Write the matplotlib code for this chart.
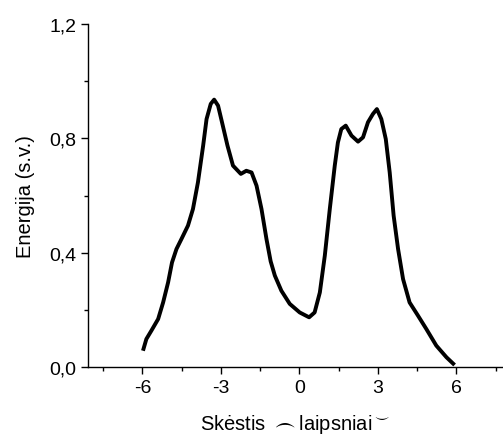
import numpy as np
import matplotlib
matplotlib.use('Agg')
import matplotlib.pyplot as plt
from matplotlib.ticker import FuncFormatter, MultipleLocator

plt.rcParams['font.family'] = ['Liberation Sans', 'DejaVu Sans']

# curve
angle = [-5.98, -5.85, -5.66, -5.40, -5.21, -5.02, -4.87, -4.70, -4.51, -4.26,
         -4.07, -3.88, -3.68, -3.55, -3.39, -3.26, -3.11, -2.96, -2.75, -2.54,
         -2.24, -2.03, -1.83, -1.64, -1.45, -1.26, -1.10, -0.94, -0.69, -0.37,
         0.01, 0.37, 0.58, 0.78, 0.97, 1.16, 1.35, 1.47, 1.60, 1.77,
         1.99, 2.24, 2.43, 2.62, 2.81, 2.96, 3.13, 3.30, 3.45, 3.60,
         3.77, 3.96, 4.21, 4.53, 4.85, 5.23, 5.62, 5.93]
energy = [0.057, 0.098, 0.127, 0.168, 0.226, 0.296, 0.366, 0.413, 0.448, 0.495,
          0.553, 0.646, 0.775, 0.868, 0.921, 0.936, 0.915, 0.857, 0.775, 0.705,
          0.676, 0.687, 0.681, 0.635, 0.553, 0.448, 0.370, 0.320, 0.267, 0.221,
          0.191, 0.174, 0.191, 0.261, 0.390, 0.553, 0.705, 0.786, 0.833, 0.845,
          0.810, 0.789, 0.804, 0.857, 0.886, 0.903, 0.868, 0.798, 0.681, 0.530,
          0.413, 0.308, 0.226, 0.180, 0.133, 0.075, 0.034, 0.007]
xticks = [-6, -3, 0, 3, 6]
yticks = [0.0, 0.4, 0.8, 1.2]

fig = plt.figure(figsize=(5.03, 4.35), dpi=100)
ax = fig.add_axes([0.175, 0.154, 0.825, 0.788])
ax.plot(angle, energy, color='black', lw=2.8, solid_capstyle='butt',
        solid_joinstyle='round')

ax.set_xlim(-8.08, 7.78)
ax.set_ylim(0, 1.2)
ax.set_xticks(xticks)
ax.set_yticks(yticks)
ax.xaxis.set_minor_locator(MultipleLocator(1.5))
ax.yaxis.set_minor_locator(MultipleLocator(0.2))
ax.xaxis.set_major_formatter(FuncFormatter(lambda v, p: f"{v:g}"))
ax.yaxis.set_major_formatter(FuncFormatter(lambda v, p: f"{v:.1f}".replace('.', ',')))
ax.tick_params(which='major', length=5, width=1, labelsize=14, direction='out')
ax.tick_params(which='minor', length=3, width=1, direction='out')
for s in ['top', 'right']:
    ax.spines[s].set_visible(False)
for s in ['left', 'bottom']:
    ax.spines[s].set_linewidth(1)

ax.set_ylabel('Energija (s.v.)', fontsize=14.5, labelpad=10)
xl = ax.set_xlabel(r'Skėstis $\frown$laipsniai$^{\smile}$', fontsize=14.5)
xl.set_verticalalignment('baseline')
ax.xaxis.set_label_coords(0.5, -0.18)

fig.savefig('out.png', dpi=100)
